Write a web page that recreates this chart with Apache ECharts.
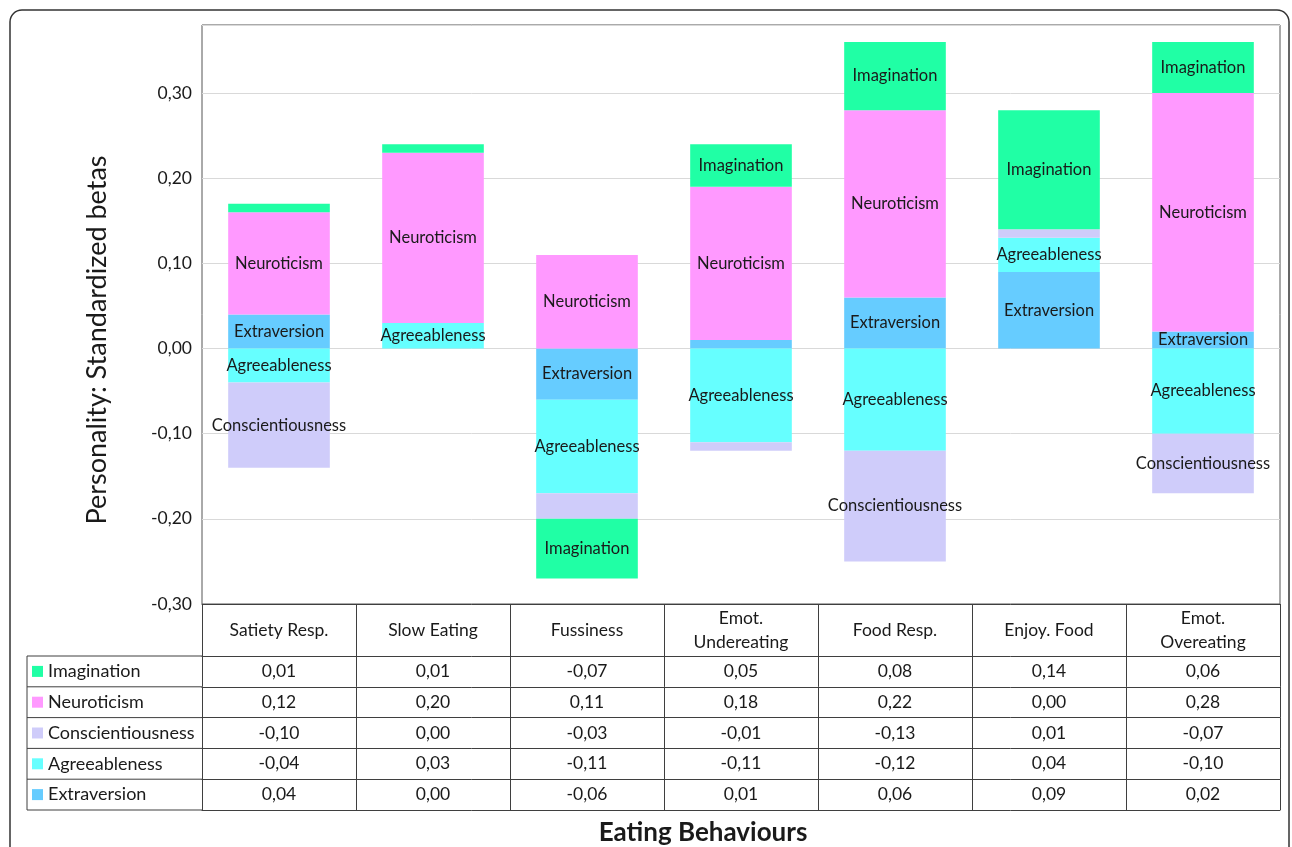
<!DOCTYPE html>
<html><head><meta charset="utf-8">
<script src="https://cdn.jsdelivr.net/npm/echarts@6/dist/echarts.min.js"></script>
<style>html,body{margin:0;padding:0;background:#fff}#c{width:1292px;height:847px}</style>
</head><body><div id="c"></div>
<script>
// ---- data ----
const categories = ['Satiety Resp.', 'Slow Eating', 'Fussiness', 'Emot.\nUndereating', 'Food Resp.', 'Enjoy. Food', 'Emot.\nOvereating'];
const imagination       = [0.01, 0.01, -0.07, 0.05, 0.08, 0.14, 0.06];
const neuroticism       = [0.12, 0.20, 0.11, 0.18, 0.22, 0.00, 0.28];
const conscientiousness = [-0.10, 0.00, -0.03, -0.01, -0.13, 0.01, -0.07];
const agreeableness     = [-0.04, 0.03, -0.11, -0.11, -0.12, 0.04, -0.10];
const extraversion      = [0.04, 0.00, -0.06, 0.01, 0.06, 0.09, 0.02];
const tableOrder = ['Imagination', 'Neuroticism', 'Conscientiousness', 'Agreeableness', 'Extraversion'];
const hiddenLabels = [['Fussiness', 'Conscientiousness']];
const yTitle = 'Personality: Standardized betas';
const xTitle = 'Eating Behaviours';

// ---- layout / style ----
const F = 'Lato, "Open Sans", sans-serif';
const W = 1292, H = 847;
const GL = 202, GR = 12, GT = 25, GB = 243;
const bottomY = H - GB;
const HEAD = 52, ROW = 30.8;
const lineC = '#3f3f3f';
const txt = '#1a1a1a';
const colors = {
  Extraversion: '#66CCFF', Agreeableness: '#66FFFF', Conscientiousness: '#CFCCFA',
  Neuroticism: '#FF99FF', Imagination: '#20FFA5'
};
const dataByName = {
  Imagination: imagination, Neuroticism: neuroticism, Conscientiousness: conscientiousness,
  Agreeableness: agreeableness, Extraversion: extraversion
};
const stackOrder = ['Extraversion', 'Agreeableness', 'Conscientiousness', 'Neuroticism', 'Imagination'];
const fmt = v => v.toFixed(2).replace('.', ',');
const isHidden = (cat, s) => hiddenLabels.some(h => h[0] === cat.replace('\n', ' ') && h[1] === s);

const xAxes = [{
  type: 'category', data: categories, position: 'bottom', offset: 0,
  axisLine: { show: true, onZero: false, lineStyle: { color: lineC, width: 1 } },
  axisTick: { show: true, length: HEAD, interval: 0, lineStyle: { color: lineC } },
  axisLabel: { interval: 0, margin: HEAD / 2, verticalAlign: 'middle', fontFamily: F, fontSize: 17.5, color: txt, lineHeight: 24 },
  splitLine: { show: false }
}];
tableOrder.forEach((name, i) => {
  const arr = dataByName[name];
  xAxes.push({
    type: 'category', data: categories, position: 'bottom', offset: HEAD + i * ROW,
    axisLine: { show: true, onZero: false, lineStyle: { color: lineC, width: 1 } },
    axisTick: { show: true, length: ROW, interval: 0, lineStyle: { color: lineC } },
    axisLabel: { interval: 0, margin: ROW / 2, verticalAlign: 'middle', fontFamily: F, fontSize: 17.5, color: txt,
      formatter: (v, idx) => fmt(arr[idx]) },
    splitLine: { show: false }
  });
});
xAxes.push({
  type: 'category', data: categories, position: 'bottom', offset: HEAD + 5 * ROW,
  axisLine: { show: true, onZero: false, lineStyle: { color: lineC, width: 1 } },
  axisTick: { show: false }, axisLabel: { show: false }, splitLine: { show: false }
});

const series = stackOrder.map(name => ({
  name, type: 'bar', stack: 'total', xAxisIndex: 0, yAxisIndex: 0,
  data: dataByName[name], barWidth: '66%',
  itemStyle: { color: colors[name] },
  label: {
    show: true, position: 'inside', fontFamily: F, fontSize: 16.5, color: txt,
    formatter: p => (Math.abs(p.value) >= 0.02 && !isHidden(categories[p.dataIndex], name)) ? name : ''
  },
  emphasis: { disabled: true }
}));

const tableTop = bottomY + HEAD;
const leftX = 27;
const graphics = [
  { type: 'rect', z: -10, silent: true, shape: { x: 10, y: 10, width: 1279, height: 900, r: 12 },
    style: { fill: 'none', stroke: '#333', lineWidth: 1.5 } },
  { type: 'text', x: 97, y: 340, rotation: Math.PI / 2, silent: true,
    style: { text: yTitle, fontFamily: F, fontSize: 27, fill: txt, align: 'center', verticalAlign: 'middle' } },
  { type: 'text', x: 703, y: 833, silent: true,
    style: { text: xTitle, fontFamily: F, fontSize: 26, fontWeight: 'bold', fill: txt, align: 'center', verticalAlign: 'middle' } },
  { type: 'line', silent: true, shape: { x1: leftX, y1: tableTop, x2: leftX, y2: tableTop + 5 * ROW }, style: { stroke: lineC, lineWidth: 1 } }
];
for (let i = 0; i <= 5; i++) {
  const y = tableTop + i * ROW;
  graphics.push({ type: 'line', silent: true, shape: { x1: leftX, y1: y, x2: GL, y2: y }, style: { stroke: lineC, lineWidth: 1 } });
}

const chart = echarts.init(document.getElementById('c'), null, { renderer: 'canvas' });
chart.setOption({
  animation: false,
  backgroundColor: '#fff',
  grid: { left: GL, right: GR, top: GT, bottom: GB, show: true, borderColor: '#555', borderWidth: 1, backgroundColor: 'transparent' },
  legend: {
    data: tableOrder, orient: 'vertical', left: 32, top: tableTop + ROW / 2 - 10, padding: 0,
    itemWidth: 11, itemHeight: 11, itemGap: ROW - 20, icon: 'rect', selectedMode: false,
    textStyle: { fontFamily: F, fontSize: 18, color: txt, lineHeight: 20 }
  },
  xAxis: xAxes,
  yAxis: {
    type: 'value', min: -0.3, max: 0.38, interval: 0.1,
    axisLine: { show: false }, axisTick: { show: false },
    axisLabel: { fontFamily: F, fontSize: 17.5, color: txt, margin: 10, showMaxLabel: false, formatter: v => fmt(v) },
    splitLine: { lineStyle: { color: '#d9d9d9', width: 1 } }
  },
  series,
  graphic: graphics
});
</script></body></html>
